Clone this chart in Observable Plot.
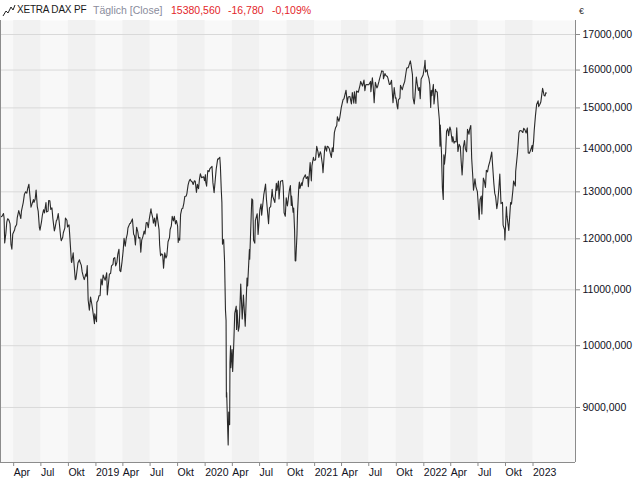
<!DOCTYPE html>
<html><head><meta charset="utf-8">
<script src="https://cdn.jsdelivr.net/npm/d3@7"></script>
<script src="https://cdn.jsdelivr.net/npm/@observablehq/plot@0.6"></script>
<style>
body{margin:0;background:#fff;font-family:"Liberation Sans",Arial,sans-serif;}
#wrap{position:relative;width:640px;height:480px;overflow:hidden;}
#hdr{position:absolute;left:0;top:0;width:640px;height:20px;font-size:10.5px;white-space:nowrap;}
#hdr span{position:absolute;top:4px;line-height:12px;}
#chart{position:absolute;left:0;top:20px;}
</style></head>
<body><div id="wrap">
<div id="hdr">
<svg style="position:absolute;left:2px;top:4px" width="14" height="13"><polyline points="1,12 4,7 6,9 9,3 11,6 13,1" fill="none" stroke="#222" stroke-width="1"/></svg>
<span id="t1" style="left:17px;color:#1a1a1a;font-size:10px;letter-spacing:-0.2px"></span>
<span id="t2" style="left:93px;color:#8a8c9c"></span>
<span id="t3" style="left:171px;color:#e3262b"></span>
<span id="t4" style="left:228px;color:#e3262b"></span>
<span id="t5" style="left:272px;color:#e3262b"></span>
<span id="cur" style="left:579px;top:5px;font-size:9px;color:#333"></span>
</div>
<div id="chart"></div>
</div>
<script>
// ---- header texts ----
const titleText = "XETRA DAX PF";
const modeText = "Täglich [Close]";
const lastValue = "15380,560";
const changeAbs = "-16,780";
const changePct = "-0,109%";
const currency = "€";

// ---- daily closes ----
const y2018 = [["2018-02-16",12452],["2018-02-21",12470],["2018-02-26",12528],["2018-02-28",12436],["2018-03-02",11913],["2018-03-06",12113],["2018-03-09",12346],["2018-03-12",12418],["2018-03-16",12390],["2018-03-20",12307],["2018-03-23",11886],["2018-03-26",11787],["2018-03-29",12097],["2018-04-04",12180],["2018-04-06",12241],["2018-04-11",12294],["2018-04-13",12442],["2018-04-18",12591],["2018-04-20",12540],["2018-04-25",12422],["2018-04-27",12580],["2018-05-03",12763],["2018-05-07",12949],["2018-05-11",13001],["2018-05-15",12970],["2018-05-18",13077],["2018-05-22",13170],["2018-05-25",12938],["2018-05-29",12666],["2018-06-01",12724],["2018-06-06",12830],["2018-06-08",12767],["2018-06-12",12842],["2018-06-15",13040],["2018-06-19",12677],["2018-06-22",12580],["2018-06-26",12228],["2018-06-28",12177],["2018-07-03",12349],["2018-07-06",12496],["2018-07-10",12610],["2018-07-13",12541],["2018-07-18",12765],["2018-07-20",12561],["2018-07-25",12579],["2018-07-27",12810],["2018-07-31",12805],["2018-08-03",12616],["2018-08-07",12648],["2018-08-10",12424],["2018-08-15",12163],["2018-08-17",12211],["2018-08-22",12385],["2018-08-24",12394],["2018-08-28",12527],["2018-08-31",12364],["2018-09-05",12040],["2018-09-07",11959],["2018-09-12",12032],["2018-09-14",12124],["2018-09-19",12219],["2018-09-21",12431],["2018-09-26",12385],["2018-09-28",12246],["2018-10-03",12287],["2018-10-05",12111],["2018-10-11",11539],["2018-10-12",11524],["2018-10-17",11715],["2018-10-19",11553],["2018-10-24",11191],["2018-10-26",11201],["2018-10-29",11335],["2018-11-02",11519],["2018-11-07",11579],["2018-11-09",11529],["2018-11-13",11472],["2018-11-16",11341],["2018-11-20",11244],["2018-11-23",11193],["2018-11-28",11299],["2018-11-30",11257],["2018-12-03",11465],["2018-12-06",10811],["2018-12-10",10622],["2018-12-14",10865],["2018-12-18",10741],["2018-12-21",10634],["2018-12-27",10381],["2018-12-28",10559]];
const y2019 = [["2019-01-03",10416],["2019-01-04",10767],["2019-01-08",10804],["2019-01-11",10888],["2019-01-15",10892],["2019-01-18",11205],["2019-01-22",11090],["2019-01-25",11282],["2019-01-29",11219],["2019-02-01",11181],["2019-02-06",11325],["2019-02-08",10906],["2019-02-12",11127],["2019-02-15",11299],["2019-02-19",11309],["2019-02-22",11457],["2019-02-27",11487],["2019-03-01",11602],["2019-03-05",11620],["2019-03-08",11458],["2019-03-12",11524],["2019-03-15",11685],["2019-03-19",11788],["2019-03-22",11364],["2019-03-25",11346],["2019-03-29",11526],["2019-04-02",11754],["2019-04-05",12010],["2019-04-09",11850],["2019-04-12",11999],["2019-04-16",12101],["2019-04-18",12222],["2019-04-24",12314],["2019-04-26",12315],["2019-05-03",12413],["2019-05-07",12093],["2019-05-10",12060],["2019-05-13",11876],["2019-05-17",12239],["2019-05-21",12143],["2019-05-24",12011],["2019-05-28",12027],["2019-05-31",11727],["2019-06-03",11971],["2019-06-07",12045],["2019-06-11",12157],["2019-06-14",12096],["2019-06-18",12332],["2019-06-21",12340],["2019-06-25",12228],["2019-06-28",12399],["2019-07-04",12629],["2019-07-05",12569],["2019-07-10",12437],["2019-07-12",12323],["2019-07-16",12430],["2019-07-19",12260],["2019-07-24",12523],["2019-07-26",12419],["2019-07-31",12189],["2019-08-02",11872],["2019-08-05",11658],["2019-08-09",11694],["2019-08-12",11680],["2019-08-15",11412],["2019-08-19",11715],["2019-08-23",11612],["2019-08-26",11658],["2019-08-30",11939],["2019-09-04",12025],["2019-09-06",12192],["2019-09-10",12268],["2019-09-13",12469],["2019-09-17",12372],["2019-09-20",12468],["2019-09-24",12308],["2019-09-27",12381],["2019-10-01",12264],["2019-10-03",11925],["2019-10-04",12013],["2019-10-08",11970],["2019-10-11",12512],["2019-10-15",12630],["2019-10-18",12634],["2019-10-22",12754],["2019-10-25",12895],["2019-10-30",12910],["2019-11-01",12961],["2019-11-05",13148],["2019-11-08",13229],["2019-11-12",13283],["2019-11-15",13242],["2019-11-19",13221],["2019-11-22",13164],["2019-11-26",13246],["2019-11-29",13236],["2019-12-03",12989],["2019-12-06",13167],["2019-12-10",13071],["2019-12-13",13283],["2019-12-16",13407],["2019-12-20",13319],["2019-12-27",13337],["2019-12-30",13249]];
const y2020 = [["2020-01-02",13386],["2020-01-03",13219],["2020-01-06",13127],["2020-01-08",13320],["2020-01-10",13483],["2020-01-14",13456],["2020-01-17",13526],["2020-01-21",13556],["2020-01-24",13577],["2020-01-27",13205],["2020-01-31",12982],["2020-02-04",13281],["2020-02-07",13514],["2020-02-12",13750],["2020-02-14",13744],["2020-02-19",13789],["2020-02-21",13579],["2020-02-24",13035],["2020-02-26",12774],["2020-02-28",11890],["2020-03-03",11985],["2020-03-06",11541],["2020-03-09",10625],["2020-03-11",10438],["2020-03-12",9162],["2020-03-13",9232],["2020-03-16",8742],["2020-03-18",8442],["2020-03-20",8929],["2020-03-23",8741],["2020-03-24",9700],["2020-03-26",10000],["2020-03-27",9633],["2020-03-31",9936],["2020-04-02",9571],["2020-04-06",10075],["2020-04-09",10565],["2020-04-14",10697],["2020-04-15",10280],["2020-04-17",10626],["2020-04-21",10250],["2020-04-24",10336],["2020-04-29",11107],["2020-05-04",10467],["2020-05-08",10904],["2020-05-14",10337],["2020-05-20",11223],["2020-05-22",11074],["2020-05-28",11781],["2020-05-29",11587],["2020-06-03",12487],["2020-06-05",12847],["2020-06-08",12820],["2020-06-11",11970],["2020-06-15",11911],["2020-06-17",12382],["2020-06-23",12523],["2020-06-26",12089],["2020-07-02",12608],["2020-07-06",12734],["2020-07-08",12494],["2020-07-15",12931],["2020-07-21",13171],["2020-07-24",12838],["2020-07-31",12313],["2020-08-03",12647],["2020-08-07",12674],["2020-08-12",13058],["2020-08-14",12901],["2020-08-21",12765],["2020-08-26",13190],["2020-08-28",13033],["2020-09-02",13243],["2020-09-04",12842],["2020-09-09",13237],["2020-09-16",13255],["2020-09-18",13116],["2020-09-21",12542],["2020-09-25",12469],["2020-09-28",12871],["2020-10-02",12689],["2020-10-09",13051],["2020-10-12",13138],["2020-10-15",12703],["2020-10-16",12909],["2020-10-21",12558],["2020-10-23",12646],["2020-10-26",12178],["2020-10-28",11561],["2020-10-30",11556],["2020-11-03",12089],["2020-11-05",12568],["2020-11-09",13096],["2020-11-11",13216],["2020-11-13",13076],["2020-11-18",13201],["2020-11-20",13137],["2020-11-24",13292],["2020-11-27",13335],["2020-12-01",13382],["2020-12-04",13298],["2020-12-09",13340],["2020-12-11",13114],["2020-12-17",13667],["2020-12-21",13246],["2020-12-23",13587],["2020-12-28",13790],["2020-12-30",13719]];
const y2021 = [["2021-01-04",13727],["2021-01-08",14050],["2021-01-12",13925],["2021-01-15",13787],["2021-01-20",13921],["2021-01-22",13873],["2021-01-27",13620],["2021-01-29",13433],["2021-02-03",13934],["2021-02-05",14057],["2021-02-10",13933],["2021-02-12",14050],["2021-02-16",14034],["2021-02-19",13993],["2021-02-23",13865],["2021-02-26",13786],["2021-03-01",14012],["2021-03-04",13920],["2021-03-08",14381],["2021-03-12",14502],["2021-03-16",14557],["2021-03-18",14776],["2021-03-23",14662],["2021-03-26",14749],["2021-03-31",15008],["2021-04-06",15212],["2021-04-09",15234],["2021-04-16",15460],["2021-04-20",15130],["2021-04-23",15280],["2021-04-29",15293],["2021-05-04",15100],["2021-05-07",15400],["2021-05-12",15120],["2021-05-14",15417],["2021-05-19",15113],["2021-05-21",15438],["2021-05-27",15406],["2021-06-02",15603],["2021-06-04",15693],["2021-06-10",15571],["2021-06-15",15729],["2021-06-18",15448],["2021-06-21",15604],["2021-06-25",15607],["2021-07-01",15603],["2021-07-07",15693],["2021-07-08",15420],["2021-07-13",15790],["2021-07-16",15540],["2021-07-19",15133],["2021-07-23",15669],["2021-07-28",15519],["2021-07-30",15544],["2021-08-04",15692],["2021-08-06",15761],["2021-08-12",15937],["2021-08-13",15977],["2021-08-18",15966],["2021-08-19",15765],["2021-08-24",15905],["2021-08-27",15852],["2021-09-01",15824],["2021-09-03",15781],["2021-09-08",15610],["2021-09-10",15609],["2021-09-15",15722],["2021-09-20",15132],["2021-09-24",15532],["2021-09-28",15249],["2021-09-30",15260],["2021-10-04",15036],["2021-10-06",14973],["2021-10-08",15206],["2021-10-13",15250],["2021-10-15",15587],["2021-10-21",15472],["2021-10-25",15599],["2021-10-29",15688],["2021-11-03",15960],["2021-11-05",16054],["2021-11-10",16067],["2021-11-17",16251],["2021-11-19",16160],["2021-11-24",15878],["2021-11-26",15257],["2021-11-30",15100],["2021-12-02",15263],["2021-12-07",15813],["2021-12-10",15623],["2021-12-14",15453],["2021-12-17",15532],["2021-12-20",15240],["2021-12-23",15756],["2021-12-29",15852],["2021-12-30",15885]];
const y2022 = [["2022-01-04",16152],["2022-01-05",16271],["2022-01-07",15948],["2022-01-12",16010],["2022-01-14",15883],["2022-01-18",15773],["2022-01-21",15603],["2022-01-24",15011],["2022-01-26",15460],["2022-01-28",15318],["2022-02-02",15613],["2022-02-04",15100],["2022-02-09",15482],["2022-02-11",15425],["2022-02-15",15412],["2022-02-18",15042],["2022-02-22",14693],["2022-02-24",14052],["2022-02-25",14567],["2022-03-01",13905],["2022-03-04",13094],["2022-03-07",12831],["2022-03-09",13847],["2022-03-11",13628],["2022-03-15",13917],["2022-03-18",14413],["2022-03-22",14474],["2022-03-25",14306],["2022-03-29",14520],["2022-04-01",14446],["2022-04-06",14152],["2022-04-08",14284],["2022-04-12",14124],["2022-04-14",14164],["2022-04-19",14154],["2022-04-21",14502],["2022-04-25",13924],["2022-04-29",14098],["2022-05-03",14039],["2022-05-06",13674],["2022-05-09",13381],["2022-05-12",13740],["2022-05-13",14027],["2022-05-17",14186],["2022-05-20",13982],["2022-05-24",13919],["2022-05-27",14462],["2022-06-01",14340],["2022-06-03",14460],["2022-06-07",14556],["2022-06-10",13762],["2022-06-14",13304],["2022-06-16",13038],["2022-06-21",13292],["2022-06-24",13118],["2022-06-29",13003],["2022-07-01",12813],["2022-07-05",12401],["2022-07-08",12834],["2022-07-12",12905],["2022-07-14",12520],["2022-07-19",13308],["2022-07-22",13254],["2022-07-26",13097],["2022-07-29",13484],["2022-08-02",13449],["2022-08-05",13574],["2022-08-10",13700],["2022-08-16",13910],["2022-08-18",13697],["2022-08-23",13195],["2022-08-26",12971],["2022-08-29",12893],["2022-09-02",12630],["2022-09-05",12760],["2022-09-09",13088],["2022-09-12",13402],["2022-09-16",12741],["2022-09-21",12767],["2022-09-23",12284],["2022-09-28",12183],["2022-09-29",11976],["2022-09-30",12114],["2022-10-04",12670],["2022-10-06",12471],["2022-10-10",12273],["2022-10-12",12172],["2022-10-18",12766],["2022-10-21",12731],["2022-10-26",13053],["2022-10-28",13243],["2022-11-03",13130],["2022-11-04",13460],["2022-11-10",13880],["2022-11-15",14378],["2022-11-18",14431],["2022-11-23",14427],["2022-11-28",14383],["2022-12-01",14490],["2022-12-05",14448],["2022-12-09",14371],["2022-12-13",14497],["2022-12-16",13893],["2022-12-20",13884],["2022-12-23",13941],["2022-12-29",14071],["2022-12-30",13924]];
const y2023 = [["2023-01-03",14181],["2023-01-05",14436],["2023-01-09",14792],["2023-01-13",15087],["2023-01-18",15181],["2023-01-20",15033],["2023-01-24",15094],["2023-01-27",15150],["2023-02-02",15509],["2023-02-03",15476],["2023-02-07",15321],["2023-02-10",15307],["2023-02-13",15397],["2023-02-14",15380.56]];

// ---- axis ticks ----
const yTicks = [9000, 10000, 11000, 12000, 13000, 14000, 15000, 16000, 17000];
const monthLabels = {3: "Apr", 6: "Jul", 9: "Okt"};
const xDomain = [new Date("2018-02-16"), new Date("2023-05-23")];
const yDomain = [8194, 17411];

document.getElementById("t1").textContent = titleText;
document.getElementById("t2").textContent = modeText;
document.getElementById("t3").textContent = lastValue;
document.getElementById("t4").textContent = changeAbs;
document.getElementById("t5").textContent = changePct;
document.getElementById("cur").textContent = currency;

const data = [...y2018, ...y2019, ...y2020, ...y2021, ...y2022, ...y2023]
  .map(([d, v]) => ({date: new Date(d), close: v}));

const xTicks = d3.utcMonth.every(3).range(new Date("2018-03-01"), new Date("2023-02-01"));
const quarters = d3.utcMonth.every(3).range(new Date("2018-01-01"), new Date("2023-01-02"));
const bands = quarters
  .filter(q => q.getUTCMonth() === 3 || q.getUTCMonth() === 9)
  .map(q => ({x1: q < xDomain[0] ? xDomain[0] : q, x2: d3.utcMonth.offset(q, 3)}));

const fmtX = d => d.getUTCMonth() === 0 ? String(d.getUTCFullYear()) : monthLabels[d.getUTCMonth()];
const fmtY = d => d.toFixed(3).replace(".", ",");

const chart = Plot.plot({
  width: 640, height: 460,
  marginTop: 0, marginLeft: 0, marginRight: 65, marginBottom: 18,
  x: {type: "utc", domain: xDomain},
  y: {type: "log", domain: yDomain},
  style: {fontFamily: "Liberation Sans, Arial, sans-serif", fontSize: "10.5px", background: "#ffffff", overflow: "visible"},
  marks: [
    Plot.frame({fill: "#f8f8f8", stroke: null}),
    Plot.rect(bands, {x1: "x1", x2: "x2", fill: "#f1f1f1"}),
    Plot.ruleY(yTicks, {stroke: "#d9d9d9"}),
    Plot.line(data, {x: "date", y: "close", stroke: "#2a2a2a", strokeWidth: 1.1}),
    Plot.ruleX(xDomain, {stroke: "#8c8c8c"}),
    Plot.ruleY([yDomain[0]], {stroke: "#8c8c8c"}),
    Plot.axisY(yTicks, {anchor: "right", tickSize: 4, tickPadding: 3, tickFormat: fmtY, stroke: "#8c8c8c", fill: "#111122", label: null}),
    Plot.axisX(xTicks, {anchor: "bottom", tickSize: 4, tickPadding: 2, tickFormat: fmtX, textAnchor: "start", stroke: "#8c8c8c", fill: "#111122", label: null})
  ]
});
document.getElementById("chart").appendChild(chart);
</script>
</body></html>
